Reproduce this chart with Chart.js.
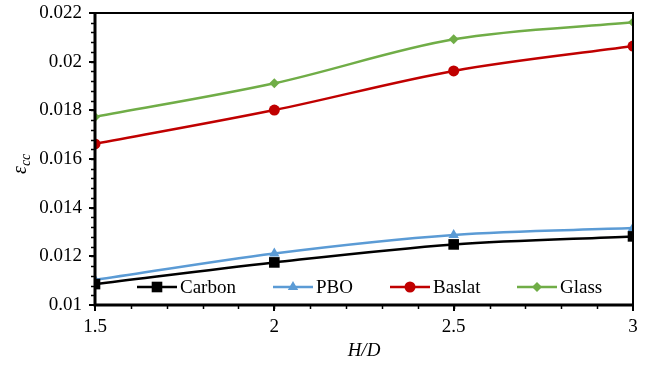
<!DOCTYPE html>
<html>
<head>
<meta charset="utf-8">
<script src="https://cdn.jsdelivr.net/npm/chart.js@4.4.1/dist/chart.umd.min.js"></script>
<style>
  html, body { margin: 0; padding: 0; background: #fff; }
  #wrap { width: 658px; height: 371px; }
</style>
</head>
<body>
<div id="wrap"><canvas id="myChart" width="658" height="371"></canvas></div>
<script>
const ctx = document.getElementById('myChart');

// H/D values
const hdValues = [1.5, 2, 2.5, 3];
const xTicks = [1.5, 2, 2.5, 3];
const yTicks = [0.01, 0.012, 0.014, 0.016, 0.018, 0.02, 0.022];

const carbon = [0.01086, 0.01175, 0.01249, 0.01282];
const pbo = [0.01103, 0.01212, 0.01288, 0.01316];
const baslat = [0.01662, 0.01801, 0.01962, 0.02064];
const glass = [0.01773, 0.01911, 0.02092, 0.02162];

const seriesNames = ['Carbon', 'PBO', 'Baslat', 'Glass'];

const FONT = "'Liberation Serif', 'Times New Roman', serif";

const toPoints = (arr) => arr.map((v, i) => ({ x: hdValues[i], y: v }));

// frame, minor ticks, legend inside plot and y title with subscript
const extras = {
  id: 'extras',
  afterDraw(chart) {
    const c = chart.ctx;
    const area = chart.chartArea;
    const xs = chart.scales.x;
    const ys = chart.scales.y;
    c.save();
    c.strokeStyle = '#000';

    // minor ticks
    c.lineWidth = 1.5;
    for (let v = 0.0104; v < 0.022; v += 0.0004) {
      const y = Math.round(ys.getPixelForValue(v)) + 0.5;
      c.beginPath();
      c.moveTo(area.left - 4, y);
      c.lineTo(area.left, y);
      c.stroke();
    }
    for (let v = 1.6; v < 3; v += 0.1) {
      const x = Math.round(xs.getPixelForValue(v)) + 0.5;
      c.beginPath();
      c.moveTo(x, area.bottom);
      c.lineTo(x, area.bottom + 4);
      c.stroke();
    }
    // major ticks
    c.lineWidth = 2;
    yTicks.forEach((v) => {
      const y = Math.round(ys.getPixelForValue(v));
      c.beginPath();
      c.moveTo(area.left - 6, y);
      c.lineTo(area.left, y);
      c.stroke();
    });
    xTicks.forEach((v) => {
      const x = Math.round(xs.getPixelForValue(v));
      c.beginPath();
      c.moveTo(x, area.bottom);
      c.lineTo(x, area.bottom + 6);
      c.stroke();
    });

    // frame
    c.lineWidth = 2;
    c.beginPath();
    c.moveTo(area.left, area.top);
    c.lineTo(area.right, area.top);
    c.lineTo(area.right, area.bottom);
    c.stroke();
    c.lineWidth = 3;
    c.beginPath();
    c.moveTo(area.left, area.top - 1);
    c.lineTo(area.left, area.bottom);
    c.lineTo(area.right + 1, area.bottom);
    c.stroke();

    // legend
    const legendX = [137, 273, 390, 517];
    const legendY = 287;
    chart.data.datasets.forEach((ds, i) => {
      const x0 = legendX[i];
      c.strokeStyle = ds.borderColor;
      c.lineWidth = 2.5;
      c.beginPath();
      c.moveTo(x0, legendY);
      c.lineTo(x0 + 40, legendY);
      c.stroke();
      c.fillStyle = ds.backgroundColor;
      c.strokeStyle = ds.borderColor;
      Chart.helpers.drawPoint(c, {
        pointStyle: ds.pointStyle,
        radius: ds.pointRadius,
        borderWidth: 0,
        rotation: 0,
      }, x0 + 20, legendY);
      c.fillStyle = '#000';
      c.font = '19px ' + FONT;
      c.textAlign = 'left';
      c.textBaseline = 'middle';
      c.fillText(ds.label, x0 + 43, legendY + 1);
    });

    // y axis title: epsilon with subscript cc
    c.translate(20, 160);
    c.rotate(-Math.PI / 2);
    c.fillStyle = '#000';
    c.textBaseline = 'alphabetic';
    c.textAlign = 'left';
    c.font = 'italic 20px ' + FONT;
    const epsW = c.measureText('ε').width;
    c.fillText('ε', -14, 6);
    c.font = 'italic 14px ' + FONT;
    c.fillText('cc', -14 + epsW, 10);
    c.restore();
  },
};

const myChart = new Chart(ctx, {
  type: 'line',
  plugins: [extras],
  data: {
    datasets: [
      {
        label: seriesNames[0],
        data: toPoints(carbon),
        borderColor: '#000000',
        backgroundColor: '#000000',
        pointStyle: 'rect',
        pointRadius: 7.5,
      },
      {
        label: seriesNames[1],
        data: toPoints(pbo),
        borderColor: '#5B9BD5',
        backgroundColor: '#5B9BD5',
        pointStyle: 'triangle',
        pointRadius: 6,
      },
      {
        label: seriesNames[2],
        data: toPoints(baslat),
        borderColor: '#C00000',
        backgroundColor: '#C00000',
        pointStyle: 'circle',
        pointRadius: 5.5,
      },
      {
        label: seriesNames[3],
        data: toPoints(glass),
        borderColor: '#70AD47',
        backgroundColor: '#70AD47',
        pointStyle: 'rectRot',
        pointRadius: 5,
      },
    ],
  },
  options: {
    responsive: false,
    animation: false,
    events: [],
    layout: {
      padding: { left: 0, right: 25, top: 13, bottom: 0 },
    },
    elements: {
      line: { borderWidth: 2.5, tension: 0.4, cubicInterpolationMode: 'monotone' },
      point: { borderWidth: 0, hoverRadius: 0 },
    },
    scales: {
      x: {
        type: 'linear',
        min: 1.5,
        max: 3,
        afterFit: (scale) => {
          scale.height = 66;
          scale.paddingLeft = 0;
          scale.paddingRight = 0;
        },
        afterBuildTicks: (scale) => { scale.ticks = xTicks.map((v) => ({ value: v })); },
        grid: { display: false, drawTicks: false },
        border: { display: false },
        ticks: {
          padding: 11,
          color: '#000',
          font: { family: FONT, size: 19 },
          maxRotation: 0,
          callback: (v) => String(v),
        },
        title: {
          display: true,
          text: 'H/D',
          color: '#000',
          font: { family: FONT, size: 19, style: 'italic' },
          padding: { top: 0, bottom: 9 },
        },
      },
      y: {
        min: 0.01,
        max: 0.022,
        afterFit: (scale) => {
          scale.width = 95;
          scale.paddingTop = 0;
          scale.paddingBottom = 0;
        },
        afterBuildTicks: (scale) => { scale.ticks = yTicks.map((v) => ({ value: v })); },
        grid: { display: false, drawTicks: false },
        border: { display: false },
        ticks: {
          padding: 13,
          color: '#000',
          font: { family: FONT, size: 19 },
          callback: (v) => String(Number(v.toFixed(3))),
        },
      },
    },
    plugins: {
      legend: { display: false },
      tooltip: { enabled: false },
    },
  },
});
</script>
</body>
</html>
